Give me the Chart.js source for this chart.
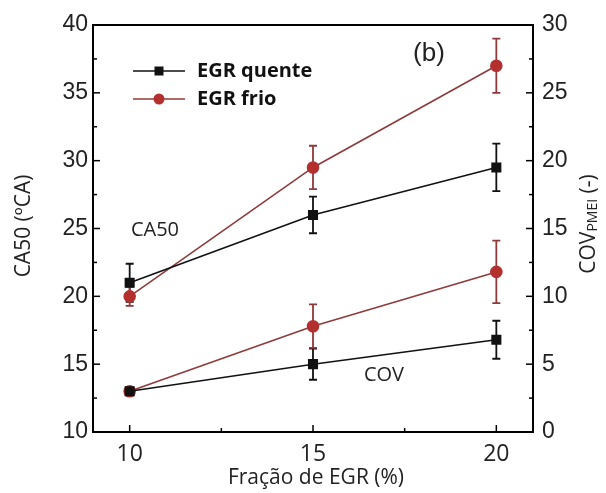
<!DOCTYPE html>
<html>
<head>
<meta charset="utf-8">
<script src="https://cdn.jsdelivr.net/npm/chart.js@4.4.1/dist/chart.umd.min.js"></script>
<style>
  html, body { margin: 0; padding: 0; background: #fff; }
  #wrap { width: 606px; height: 493px; }
</style>
</head>
<body>
<div id="wrap"><canvas id="chart" width="606" height="493"></canvas></div>
<script>
// EGR fraction (%)
const fractions = [10, 15, 20];
const xTicks = [10, 15, 20];

// CA50 (left axis, ºCA)
const ca50Quente = [21, 26, 29.5];
const ca50QuenteErr = [1.4, 1.35, 1.75];
const ca50Frio = [20, 29.5, 37];
const ca50FrioErr = [0.7, 1.6, 2.0];

// COV PMEI (right axis, -)
const covQuente = [3, 5, 6.8];
const covQuenteErr = [0.3, 1.15, 1.4];
const covFrio = [3, 7.8, 11.8];
const covFrioErr = [0.3, 1.6, 2.3];

const BLACK = '#111111';
const RED_LINE = '#8f3a3a';
const RED_PT = '#b3302f';

function pts(vals) {
    return fractions.map((x, i) => ({ x: x, y: vals[i] }));
}

function makeSet(label, vals, errs, axis, isRed) {
    return {
        label: label,
        data: pts(vals),
        errors: errs,
        yAxisID: axis,
        borderColor: isRed ? RED_LINE : BLACK,
        backgroundColor: isRed ? RED_PT : BLACK,
        pointBackgroundColor: isRed ? RED_PT : BLACK,
        pointBorderColor: isRed ? RED_PT : BLACK,
        pointStyle: isRed ? 'circle' : 'rect',
        pointRadius: isRed ? 5.5 : 6,
        borderWidth: 1.6,
        tension: 0
    };
}

const errorBars = {
    id: 'errorBars',
    beforeDatasetsDraw(chart) {
        const ctx = chart.ctx;
        chart.data.datasets.forEach((ds, i) => {
            const ys = chart.scales[ds.yAxisID];
            const xs = chart.scales.x;
            ctx.save();
            ctx.strokeStyle = ds.borderColor;
            ctx.lineWidth = 1.8;
            ds.data.forEach((p, j) => {
                const e = ds.errors[j];
                const px = xs.getPixelForValue(p.x);
                const top = ys.getPixelForValue(p.y + e);
                const bot = ys.getPixelForValue(p.y - e);
                ctx.beginPath();
                ctx.moveTo(px, top); ctx.lineTo(px, bot);
                ctx.moveTo(px - 4, top); ctx.lineTo(px + 4, top);
                ctx.moveTo(px - 4, bot); ctx.lineTo(px + 4, bot);
                ctx.stroke();
            });
            ctx.restore();
        });
    }
};

function inwardTicks(ctx, scale, values, len, side, area) {
    values.forEach(v => {
        const p = scale.getPixelForValue(v);
        ctx.beginPath();
        if (side === 'left') { ctx.moveTo(area.left, p); ctx.lineTo(area.left + len, p); }
        if (side === 'right') { ctx.moveTo(area.right, p); ctx.lineTo(area.right - len, p); }
        if (side === 'bottom') { ctx.moveTo(p, area.bottom); ctx.lineTo(p, area.bottom - len); }
        ctx.stroke();
    });
}

const decor = {
    id: 'decor',
    afterDraw(chart) {
        const ctx = chart.ctx;
        const a = chart.chartArea;
        const { x, y, y1 } = chart.scales;
        ctx.save();
        ctx.strokeStyle = '#000';
        ctx.lineWidth = 2;
        ctx.strokeRect(a.left, a.top, a.right - a.left, a.bottom - a.top);

        ctx.lineWidth = 1.5;
        inwardTicks(ctx, y, [15, 20, 25, 30, 35], 7, 'left', a);
        inwardTicks(ctx, y, [12.5, 17.5, 22.5, 27.5, 32.5, 37.5], 4, 'left', a);
        inwardTicks(ctx, y1, [5, 10, 15, 20, 25], 7, 'right', a);
        inwardTicks(ctx, y1, [2.5, 7.5, 12.5, 17.5, 22.5, 27.5], 4, 'right', a);
        inwardTicks(ctx, x, xTicks, 7, 'bottom', a);
        inwardTicks(ctx, x, [12.5, 17.5], 4, 'bottom', a);

        // legend
        const rows = [
            { text: 'EGR quente', ds: chart.data.datasets[0], yy: 71 },
            { text: 'EGR frio', ds: chart.data.datasets[1], yy: 99 }
        ];
        rows.forEach(r => {
            ctx.strokeStyle = r.ds.borderColor;
            ctx.lineWidth = 1.6;
            ctx.beginPath();
            ctx.moveTo(133, r.yy); ctx.lineTo(185, r.yy);
            ctx.stroke();
            ctx.fillStyle = r.ds.pointBackgroundColor;
            ctx.beginPath();
            if (r.ds.pointStyle === 'rect') ctx.rect(159 - 4.5, r.yy - 4.5, 9, 9);
            else ctx.arc(159, r.yy, 5.5, 0, Math.PI * 2);
            ctx.fill();
            ctx.fillStyle = '#111';
            ctx.font = 'bold 20px "Open Sans"';
            ctx.textAlign = 'left';
            ctx.textBaseline = 'middle';
            ctx.fillText(r.text, 197, r.yy);
        });

        // annotations
        ctx.fillStyle = '#222';
        ctx.textAlign = 'center';
        ctx.textBaseline = 'middle';
        ctx.font = '26px "Liberation Sans"';
        ctx.fillText('(b)', 429, 54);
        ctx.font = '20px "Open Sans"';
        ctx.fillText('CA50', 155, 230);
        ctx.fillText('COV', 384, 375);

        // axis titles
        ctx.font = '21px "Open Sans"';
        ctx.fillText('Fração de EGR (%)', 316, 478);

        ctx.save();
        ctx.translate(24, 226);
        ctx.rotate(-Math.PI / 2);
        ctx.fillText('CA50 (ºCA)', 0, 0);
        ctx.restore();

        ctx.save();
        ctx.translate(589, 224);
        ctx.rotate(-Math.PI / 2);
        ctx.textAlign = 'left';
        const big = '21px "Open Sans"';
        const small = '14px "Open Sans"';
        ctx.font = big;
        const w1 = ctx.measureText('COV').width;
        ctx.font = small;
        const w2 = ctx.measureText('PMEI').width;
        ctx.font = big;
        const w3 = ctx.measureText(' (-)').width;
        const sx = -(w1 + w2 + w3) / 2;
        ctx.fillText('COV', sx, 0);
        ctx.font = small;
        ctx.fillText('PMEI', sx + w1, 4);
        ctx.font = big;
        ctx.fillText(' (-)', sx + w1 + w2, 0);
        ctx.restore();

        ctx.restore();
    }
};

new Chart(document.getElementById('chart'), {
    type: 'line',
    data: {
        datasets: [
            makeSet('EGR quente', ca50Quente, ca50QuenteErr, 'y', false),
            makeSet('EGR frio', ca50Frio, ca50FrioErr, 'y', true),
            makeSet('EGR quente COV', covQuente, covQuenteErr, 'y1', false),
            makeSet('EGR frio COV', covFrio, covFrioErr, 'y1', true)
        ]
    },
    options: {
        responsive: false,
        animation: false,
        layout: { padding: { top: 25, left: 0, right: 0, bottom: 0 } },
        plugins: {
            legend: { display: false },
            tooltip: { enabled: false }
        },
        scales: {
            x: {
                type: 'linear',
                min: 9,
                max: 21,
                grid: { display: false, drawTicks: false },
                border: { display: false },
                afterBuildTicks: s => { s.ticks = xTicks.map(v => ({ value: v })); },
                afterFit: s => { s.height = 61; },
                ticks: { padding: 9, color: '#222', font: { family: 'Open Sans', size: 23 } }
            },
            y: {
                position: 'left',
                min: 10,
                max: 40,
                grid: { display: false, drawTicks: false },
                border: { display: false },
                afterFit: s => { s.width = 93; },
                ticks: { stepSize: 5, padding: 5, color: '#222', font: { family: 'Liberation Sans', size: 23 } }
            },
            y1: {
                position: 'right',
                min: 0,
                max: 30,
                grid: { display: false, drawTicks: false },
                border: { display: false },
                afterFit: s => { s.width = 73; },
                ticks: { stepSize: 5, padding: 9, color: '#222', font: { family: 'Liberation Sans', size: 23 } }
            }
        }
    },
    plugins: [errorBars, decor]
});
</script>
</body>
</html>
